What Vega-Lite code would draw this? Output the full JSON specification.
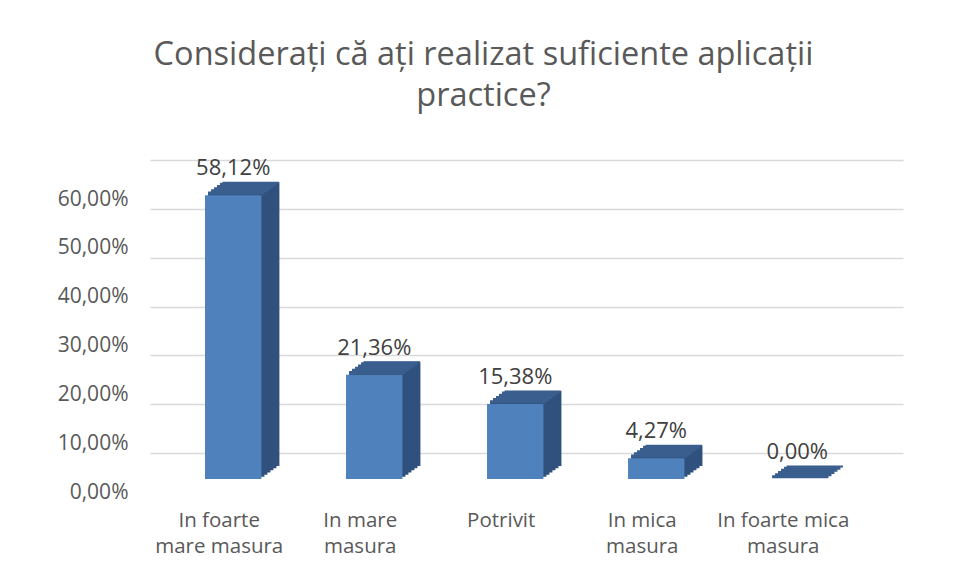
{
  "$schema": "https://vega.github.io/schema/vega-lite/v6.json",
  "width": 753,
  "height": 293,
  "autosize": {"type": "none"},
  "padding": {"left": 150, "top": 186, "right": 50, "bottom": 101},
  "background": "white",
  "config": {
    "locale": {"number": {"decimal": ",", "thousands": ".", "grouping": [3], "currency": ["", " lei"]}},
    "font": "Open Sans",
    "view": {"stroke": null}
  },
  "title": {
    "text": ["Considerați  că ați realizat suficiente aplicații", "practice?"],
    "font": "Open Sans",
    "fontSize": 32.5,
    "fontWeight": "normal",
    "color": "#595959",
    "anchor": "middle",
    "frame": "group",
    "dx": -43,
    "lineHeight": 41,
    "offset": 45
  },
  "data": {
    "values": [
      {"categorie": "In foarte\nmare masura", "procent": 0.5812},
      {"categorie": "In mare\nmasura", "procent": 0.2136},
      {"categorie": "Potrivit", "procent": 0.1538},
      {"categorie": "In mica\nmasura", "procent": 0.0427},
      {"categorie": "In foarte mica\nmasura", "procent": 0.0}
    ]
  },
  "encoding": {
    "x": {
      "field": "categorie",
      "type": "nominal",
      "sort": null,
      "scale": {"paddingInner": 0.6, "paddingOuter": 0.47, "align": 0.415},
      "axis": {
        "title": null,
        "domain": false,
        "ticks": false,
        "labelAngle": 0,
        "labelPadding": 31,
        "labelOffset": -14,
        "labelFont": "Open Sans",
        "labelFontSize": 20.5,
        "labelColor": "#595959",
        "labelLineHeight": 26,
        "labelLimit": 0,
        "labelExpr": "split(datum.label, '\\n')"
      }
    },
    "y": {
      "field": "procent",
      "type": "quantitative",
      "scale": {"domain": [0, 0.6], "nice": false},
      "axis": {
        "title": null,
        "domain": false,
        "ticks": false,
        "values": [0, 0.1, 0.2, 0.3, 0.4, 0.5, 0.6],
        "format": ".2%",
        "tickOffset": -26,
        "labelOffset": 39,
        "labelPadding": 22,
        "labelFont": "Open Sans",
        "labelFontSize": 21,
        "labelColor": "#595959",
        "gridColor": "#d9d9d9",
        "gridWidth": 1.5
      }
    }
  },
  "layer": [
    {"mark": {"type": "bar", "color": "#30517d", "xOffset": 3, "yOffset": -2.17, "y2Offset": -2.17}},
    {"mark": {"type": "bar", "color": "#30517d", "xOffset": 6, "yOffset": -4.33, "y2Offset": -4.33}},
    {"mark": {"type": "bar", "color": "#30517d", "xOffset": 9, "yOffset": -6.5, "y2Offset": -6.5}},
    {"mark": {"type": "bar", "color": "#30517d", "xOffset": 12, "yOffset": -8.67, "y2Offset": -8.67}},
    {"mark": {"type": "bar", "color": "#30517d", "xOffset": 15, "yOffset": -10.83, "y2Offset": -10.83}},
    {"mark": {"type": "bar", "color": "#30517d", "xOffset": 18, "yOffset": -13, "y2Offset": -13}},
    {"mark": {"type": "bar", "fill": "#3a5f8e", "stroke": "#3a5f8e", "strokeWidth": 3, "xOffset": 3, "yOffset": -2.17, "y2Offset": -2.17}, "encoding": {"y2": {"field": "procent"}}},
    {"mark": {"type": "bar", "fill": "#3a5f8e", "stroke": "#3a5f8e", "strokeWidth": 3, "xOffset": 6, "yOffset": -4.33, "y2Offset": -4.33}, "encoding": {"y2": {"field": "procent"}}},
    {"mark": {"type": "bar", "fill": "#3a5f8e", "stroke": "#3a5f8e", "strokeWidth": 3, "xOffset": 9, "yOffset": -6.5, "y2Offset": -6.5}, "encoding": {"y2": {"field": "procent"}}},
    {"mark": {"type": "bar", "fill": "#3a5f8e", "stroke": "#3a5f8e", "strokeWidth": 3, "xOffset": 12, "yOffset": -8.67, "y2Offset": -8.67}, "encoding": {"y2": {"field": "procent"}}},
    {"mark": {"type": "bar", "fill": "#3a5f8e", "stroke": "#3a5f8e", "strokeWidth": 3, "xOffset": 15, "yOffset": -10.83, "y2Offset": -10.83}, "encoding": {"y2": {"field": "procent"}}},
    {"mark": {"type": "bar", "fill": "#3a5f8e", "stroke": "#3a5f8e", "strokeWidth": 2, "xOffset": 17.5, "yOffset": -12.5, "y2Offset": -12.5}, "encoding": {"y2": {"field": "procent"}}},
    {"mark": {"type": "bar", "color": "#4f81bd"}},
    {
      "mark": {"type": "text", "baseline": "bottom", "dy": -15, "font": "Open Sans", "fontSize": 22, "color": "#404040"},
      "encoding": {"text": {"field": "procent", "type": "quantitative", "format": ".2%"}}
    }
  ]
}
